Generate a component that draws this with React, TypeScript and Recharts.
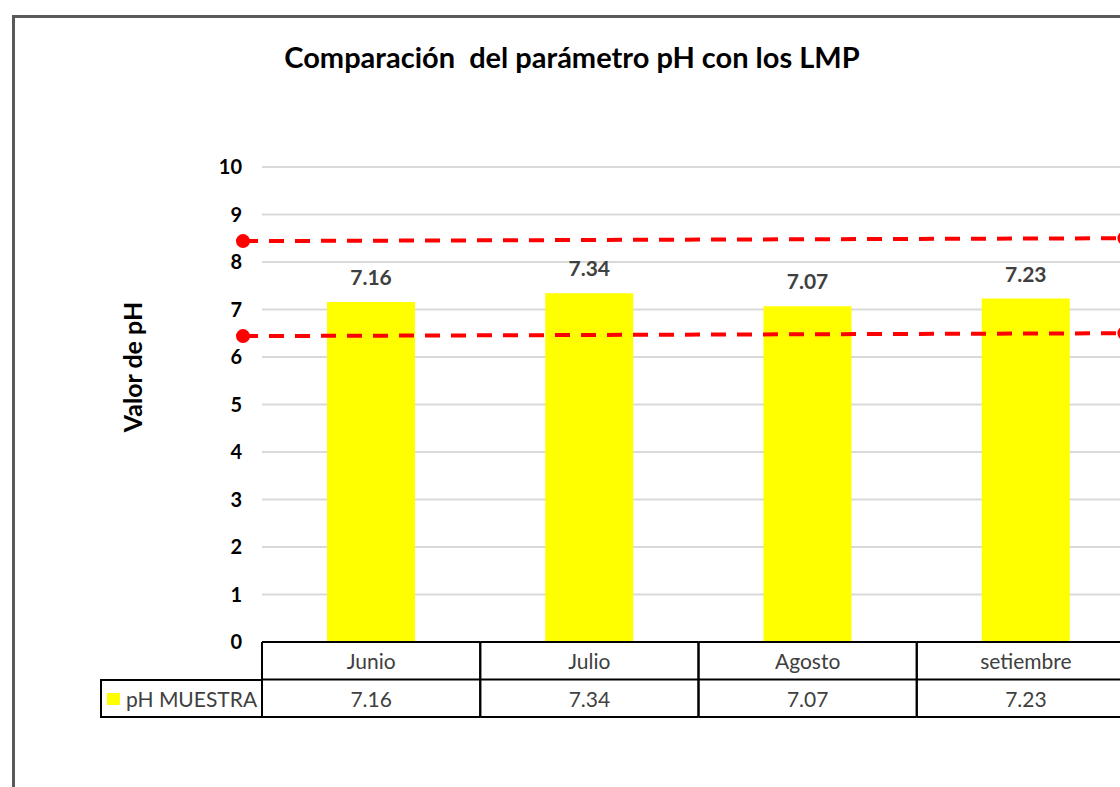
import React from 'react';
import { ComposedChart, Bar, Line, XAxis, YAxis, CartesianGrid, LabelList } from 'recharts';

const months = ['Junio', 'Julio', 'Agosto', 'setiembre'];
const phMuestra = [7.16, 7.34, 7.07, 7.23];
const yTicks = [0, 1, 2, 3, 4, 5, 6, 7, 8, 9, 10];
const lmpX = [0, 1];
const lmpMax = [8.44, 8.5];
const lmpMin = [6.44, 6.5];

const data = months.map((m, i) => ({ mes: m, ph: phMuestra[i] }));
const maxData = lmpX.map((x, i) => ({ x, y: lmpMax[i] }));
const minData = lmpX.map((x, i) => ({ x, y: lmpMin[i] }));

const FONT = 'Lato, "Open Sans", sans-serif';
const CHART_W = 1160;
const CHART_H = 787;
const MARGIN = { top: 167, right: 25, bottom: 70, left: 100 };
const YAXIS_W = 143;
const PAD_L = 19;
const PLOT_W = CHART_W - MARGIN.left - MARGIN.right - YAXIS_W;
const BAND = (PLOT_W - PAD_L) / months.length;
const ROW_H = 37.5;

const TableTick = (props: any) => {
  const { x, y, payload, index } = props;
  const left = x - BAND / 2;
  const right = x + BAND / 2;
  const r1 = y + ROW_H;
  const r2 = y + 2 * ROW_H;
  return (
    <g>
      <line x1={left} x2={right} y1={y} y2={y} stroke="#000" strokeWidth={2} />
      <line x1={left} x2={right} y1={r1} y2={r1} stroke="#000" strokeWidth={2} />
      <line x1={left} x2={right} y1={r2} y2={r2} stroke="#000" strokeWidth={2} />
      <line x1={left} x2={left} y1={y} y2={r2} stroke="#000" strokeWidth={2} />
      <line x1={right} x2={right} y1={y} y2={r2} stroke="#000" strokeWidth={2} />
      <text x={x} y={y + ROW_H / 2} textAnchor="middle" dominantBaseline="central" fill="#404040" fontSize={21} fontFamily={FONT}>
        {payload.value}
      </text>
      <text x={x} y={r1 + ROW_H / 2} textAnchor="middle" dominantBaseline="central" fill="#404040" fontSize={21} fontFamily={FONT}>
        {phMuestra[index].toFixed(2)}
      </text>
    </g>
  );
};

export default function App() {
  return (
    <div style={{ position: 'absolute', left: 0, top: 0, width: 1120, height: 787, overflow: 'hidden', background: '#fff', fontFamily: FONT }}>
      <div style={{ position: 'absolute', left: 12, top: 15, width: 1400, height: 1100, border: '3px solid #595959' }} />
      <div style={{ position: 'absolute', left: 172, top: 38, width: 800, textAlign: 'center', fontSize: 29, fontWeight: 700, lineHeight: '38px', color: '#000' }}>
        Comparación&nbsp; del parámetro pH con los LMP
      </div>
      <div style={{ position: 'absolute', left: 17, top: 351, width: 230, height: 32, lineHeight: '32px', textAlign: 'center', transform: 'rotate(-90deg)', fontSize: 25, fontWeight: 700, color: '#000' }}>
        Valor de pH
      </div>
      <div style={{ position: 'absolute', left: 0, top: 0 }}>
        <ComposedChart width={CHART_W} height={CHART_H} data={data} margin={MARGIN}>
          <CartesianGrid xAxisId="cat" vertical={false} stroke="#d9d9d9" strokeWidth={2} x={MARGIN.left + YAXIS_W + PAD_L} width={PLOT_W - PAD_L} />
          <XAxis
            xAxisId="cat"
            dataKey="mes"
            type="category"
            height={75}
            padding={{ left: PAD_L, right: 0 }}
            axisLine={false}
            tickLine={false}
            tickSize={0}
            tickMargin={0}
            interval={0}
            tick={<TableTick />}
          />
          <XAxis xAxisId="lmp" type="number" dataKey="x" domain={[0, 1.012]} hide />
          <YAxis
            domain={[0, 10]}
            ticks={yTicks}
            width={YAXIS_W}
            axisLine={false}
            tickLine={false}
            tickSize={0}
            tickMargin={1}
            tick={{ fill: '#000', fontSize: 20, fontWeight: 700, fontFamily: FONT }}
          />
          <Bar xAxisId="cat" dataKey="ph" fill="#FFFF00" barSize={88} isAnimationActive={false}>
            <LabelList dataKey="ph" position="top" offset={17} fill="#404040" fontSize={21} fontWeight={700} fontFamily={FONT} formatter={(v: any) => Number(v).toFixed(2)} />
          </Bar>
          <Line xAxisId="lmp" data={maxData} dataKey="y" stroke="#FF0000" strokeWidth={4} strokeDasharray="15 11" dot={{ r: 7, fill: '#FF0000', stroke: 'none' }} activeDot={false} isAnimationActive={false} />
          <Line xAxisId="lmp" data={minData} dataKey="y" stroke="#FF0000" strokeWidth={4} strokeDasharray="15 11" dot={{ r: 7, fill: '#FF0000', stroke: 'none' }} activeDot={false} isAnimationActive={false} />
        </ComposedChart>
      </div>
      <div style={{ position: 'absolute', left: 100, top: 679, width: 163, height: 39, boxSizing: 'border-box', borderLeft: '2px solid #000', borderTop: '2px solid #000', borderBottom: '2px solid #000', display: 'flex', alignItems: 'center', fontSize: 21, color: '#404040' }}>
        <div style={{ width: 13, height: 12, background: '#FFFF00', marginLeft: 5, marginRight: 6 }} />
        <span>pH MUESTRA</span>
      </div>
    </div>
  );
}
